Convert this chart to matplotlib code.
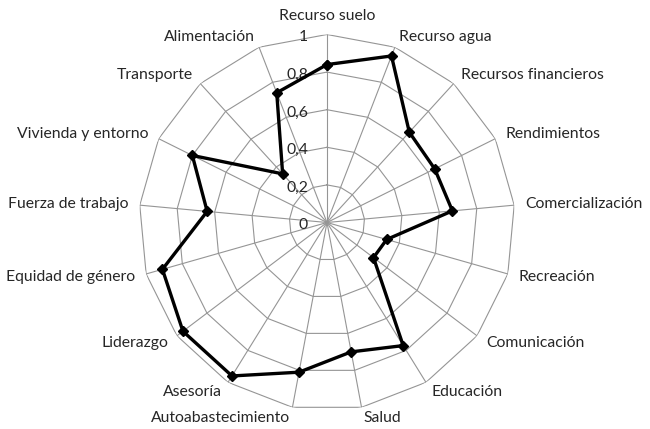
import numpy as np
import matplotlib
matplotlib.use("Agg")
import matplotlib.pyplot as plt

categories = ["Recurso suelo", "Recurso agua", "Recursos financieros", "Rendimientos",
              "Comercialización", "Recreación", "Comunicación", "Educación", "Salud",
              "Autoabastecimiento", "Asesoría", "Liderazgo", "Equidad de género",
              "Fuerza de trabajo", "Vivienda y entorno", "Transporte", "Alimentación"]
values = [0.84, 0.95, 0.65, 0.64, 0.67, 0.33, 0.31, 0.77, 0.70,
          0.81, 0.96, 0.96, 0.91, 0.64, 0.80, 0.35, 0.74]
ring_values = [0.2, 0.4, 0.6, 0.8, 1.0]
ring_labels = ["0", "0,2", "0,4", "0,6", "0,8", "1"]
ring_label_pos = [0, 0.2, 0.4, 0.6, 0.8, 1.0]

plt.rcParams['font.family'] = ['Lato', 'DejaVu Sans']

fig = plt.figure(figsize=(6.5, 4.29), dpi=100)
ax = fig.add_axes([0.2138, 0.0431, 0.5785, 0.8765], projection='polar')
ax.set_theta_zero_location('N')
ax.set_theta_direction(-1)
ax.set_ylim(0, 1)
ax.grid(False)
ax.set_xticks([])
ax.set_yticks([])
ax.spines['polar'].set_visible(False)

n = len(categories)
theta = np.arange(n) * 2 * np.pi / n
theta_closed = np.append(theta, theta[0])

grid_color = '#959595'
for r in ring_values:
    ax.plot(theta_closed, [r] * (n + 1), color=grid_color, lw=0.8, zorder=1)
for t in theta:
    ax.plot([t, t], [0, 1], color=grid_color, lw=0.8, zorder=1)

vals_closed = values + [values[0]]
ax.plot(theta_closed, vals_closed, color='black', lw=2.4, marker='D',
        markersize=5.5, zorder=3)

text_color = '#262626'
for t, lab in zip(theta, categories):
    s = np.sin(t)
    if s > 0.05:
        ha, va = 'left', 'center'
    elif s < -0.05:
        ha, va = 'right', 'center'
    else:
        ha, va = 'center', 'bottom'
    ax.text(t, 1.06, lab, ha=ha, va=va, fontsize=11.3, color=text_color)

for r, lab in zip(ring_label_pos, ring_labels):
    ax.annotate(lab, xy=(0, r), xytext=(-13.7, -2), textcoords='offset points',
                ha='right', va='center', fontsize=11.3, color=text_color, zorder=2)

fig.savefig("out.png", dpi=100)
